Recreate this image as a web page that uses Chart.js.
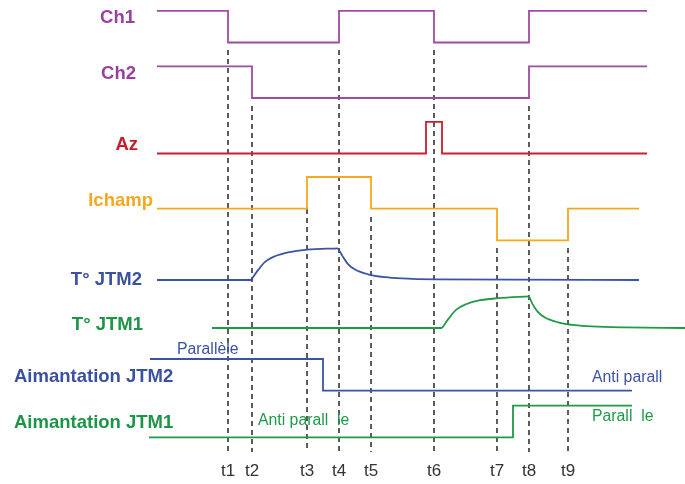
<!DOCTYPE html>
<html>
<head>
<meta charset="utf-8">
<script src="https://cdn.jsdelivr.net/npm/chart.js@4.4.1/dist/chart.umd.min.js"></script>
<style>
  html, body { margin: 0; padding: 0; background: #fff; }
  #wrap { width: 685px; height: 484px; position: relative; }
</style>
</head>
<body>
<div id="wrap"><canvas id="timing"></canvas></div>
<script>
// ==========================================
// DATA (time in arbitrary units)
// ==========================================
const tickNames = ['t1', 't2', 't3', 't4', 't5', 't6', 't7', 't8', 't9'];
const tickTimes = [22.8, 25.2, 30.7, 33.9, 37.1, 43.4, 49.7, 52.9, 56.8];

// logic signals: switching instants and the level held after each one
const ch1Times = [15.7, 22.8, 33.9, 43.4, 52.9, 64.7];
const ch1Levels = [1, 0, 1, 0, 1, 1];

const ch2Times = [15.7, 25.2, 52.9, 64.7];
const ch2Levels = [1, 0, 1, 1];

const azTimes = [15.7, 42.6, 44.2, 64.7];
const azLevels = [0, 1, 0, 0];

const ichampTimes = [15.7, 30.7, 37.1, 49.7, 56.8, 63.9];
const ichampLevels = [0, 1, 0, -1, 0, 0];

const aim2Times = [15.0, 32.3, 63.2];
const aim2Levels = [1, 0, 0];

const aim1Times = [14.9, 51.3, 63.2];
const aim1Levels = [0, 1, 1];

// temperatures: sampled points of the heating / cooling curves
const tempJtm2Times = [15.7, 25.1, 25.8, 26.5, 27.5, 28.8, 30.7, 33.8, 34.3, 34.8, 35.5, 36.8, 38.5, 40.2, 43.5, 63.9];
const tempJtm2Levels = [0, 0, 0.31, 0.57, 0.75, 0.87, 0.96, 1.0, 0.73, 0.5, 0.33, 0.18, 0.09, 0.05, 0.02, 0];

const tempJtm1Times = [21.2, 44.2, 44.9, 45.6, 46.6, 47.9, 49.8, 52.9, 53.3, 53.8, 54.5, 55.8, 57.5, 59.2, 62.5, 68.5];
const tempJtm1Levels = [0, 0, 0.31, 0.57, 0.75, 0.87, 0.94, 1.0, 0.73, 0.5, 0.33, 0.18, 0.09, 0.05, 0.02, 0];

// ==========================================
// LAYOUT / STYLE
// ==========================================
const AMP = 3.17;
const PURPLE = '#a04ba3', RED = '#c8202e', ORANGE = '#f5a81d', BLUE = '#3b53a4', GREEN = '#1f9a48';

function lane(times, levels, base) {
    return times.map((t, i) => ({ x: t, y: base + levels[i] * AMP }));
}

const datasets = [];

function addStep(times, levels, base, color) {
    datasets.push({
        data: lane(times, levels, base),
        borderColor: color,
        borderWidth: 1.8,
        stepped: true,
        pointRadius: 0,
        fill: false
    });
}

// a temperature curve is drawn as flat part + heating + cooling so the corners stay sharp
function addTemp(times, levels, base, color) {
    const pts = lane(times, levels, base);
    const riseStart = levels.findIndex(v => v > 0) - 1;
    const peak = levels.indexOf(Math.max(...levels));
    [pts.slice(0, riseStart + 1), pts.slice(riseStart, peak + 1), pts.slice(peak)].forEach(part => {
        datasets.push({
            data: part,
            borderColor: color,
            borderWidth: 1.8,
            cubicInterpolationMode: 'monotone',
            pointRadius: 0,
            fill: false
        });
    });
}

addStep(ch1Times, ch1Levels, 44.15, PURPLE);
addStep(ch2Times, ch2Levels, 38.6, PURPLE);
addStep(azTimes, azLevels, 33.05, RED);
addStep(ichampTimes, ichampLevels, 27.53, ORANGE);
addTemp(tempJtm2Times, tempJtm2Levels, 20.4, BLUE);
addTemp(tempJtm1Times, tempJtm1Levels, 15.6, GREEN);
addStep(aim2Times, aim2Levels, 9.33, BLUE);
addStep(aim1Times, aim1Levels, 4.67, GREEN);

// where each dashed marker starts (just under the signal that triggers it)
const dashTops = [43.4, 37.8, 27.5, 43.4, 26.7, 43.4, 23.6, 37.8, 23.6];
const dashBottom = 3.2;

tickTimes.forEach((t, i) => {
    datasets.push({
        data: [{ x: t, y: dashTops[i] }, { x: t, y: dashBottom }],
        borderColor: '#333',
        borderWidth: 1.6,
        borderDash: [5, 4],
        pointRadius: 0,
        fill: false
    });
});

// text labels: [text, x, y, align, colour, font]
const BOLD = 'bold 18.5px "Liberation Sans", Arial, sans-serif';
const NORMAL = '15.8px "Liberation Sans", Arial, sans-serif';
const labels = [
    ['Ch1', 13.5, 46.6, 'right', '#9b3f9f', BOLD],
    ['Ch2', 13.6, 41.0, 'right', '#9b3f9f', BOLD],
    ['Az', 13.8, 33.9, 'right', '#c41e2a', BOLD],
    ['Ichamp', 15.3, 28.33, 'right', '#f4a81f', BOLD],
    ['T° JTM2', 14.2, 20.4, 'right', '#3a51a1', BOLD],
    ['T° JTM1', 14.3, 15.9, 'right', '#1c9547', BOLD],
    ['Aimantation JTM2', 1.4, 10.73, 'left', '#3a51a1', BOLD],
    ['Aimantation JTM1', 1.4, 6.07, 'left', '#1c9547', BOLD],
    ['Parallèle', 17.7, 13.4, 'left', BLUE, NORMAL],
    ['Anti parall  le', 25.8, 6.33, 'left', GREEN, NORMAL],
    ['Anti parall', 59.2, 10.63, 'left', BLUE, NORMAL],
    ['Parall  le', 59.2, 6.73, 'left', GREEN, NORMAL]
];

const textPlugin = {
    id: 'timingText',
    afterDatasetsDraw(chart) {
        const { ctx, scales } = chart;
        ctx.save();
        ctx.textBaseline = 'middle';
        labels.forEach(([txt, x, y, align, color, font]) => {
            ctx.font = font;
            ctx.fillStyle = color;
            ctx.textAlign = align;
            ctx.fillText(txt, scales.x.getPixelForValue(x), scales.y.getPixelForValue(y));
        });
        // t1..t9 under the dashed markers
        ctx.font = '17px "Liberation Sans", Arial, sans-serif';
        ctx.fillStyle = '#333';
        ctx.textAlign = 'center';
        tickTimes.forEach((t, i) => {
            ctx.fillText(tickNames[i], scales.x.getPixelForValue(t), scales.y.getPixelForValue(1.23));
        });
        ctx.restore();
    }
};

new Chart(document.getElementById('timing'), {
    type: 'line',
    data: { datasets: datasets },
    options: {
        responsive: true,
        maintainAspectRatio: false,
        animation: false,
        events: [],
        layout: { padding: 0 },
        plugins: { legend: { display: false }, tooltip: { enabled: false } },
        scales: {
            x: { type: 'linear', min: 0, max: 68.5, display: false },
            y: { type: 'linear', min: 0, max: 48.4, display: false }
        }
    },
    plugins: [textPlugin]
});
</script>
</body>
</html>
